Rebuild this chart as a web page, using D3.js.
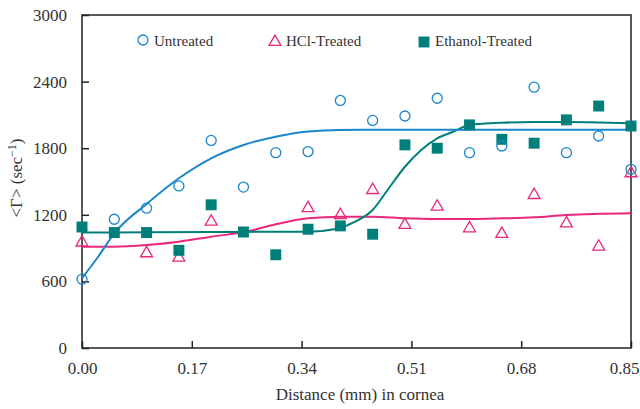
<!DOCTYPE html>
<html>
<head>
<meta charset="utf-8">
<script src="https://cdn.jsdelivr.net/npm/d3@7"></script>
<style>
  body { margin: 0; background: #fff; }
  svg text { font-family: "Liberation Serif", "Times New Roman", serif; fill: #333; }
</style>
</head>
<body>
<svg id="chart" width="640" height="409"></svg>
<script>
// measured points, distance in mm
var distance = [0.00, 0.05, 0.10, 0.15, 0.20, 0.25, 0.30, 0.35, 0.40, 0.45, 0.50, 0.55, 0.60, 0.65, 0.70, 0.75, 0.80, 0.85]
var untreated = [620, 1160, 1260, 1460, 1870, 1450, 1760, 1770, 2230, 2050, 2090, 2250, 1760, 1820, 2350, 1760, 1910, 1610]
var ethanol = [1090, 1040, 1040, 880, 1290, 1045, 840, 1070, 1100, 1025, 1830, 1800, 2010, 1880, 1845, 2055, 2180, 2000]
// HCl points hidden under squares are left out
var hclDistance = [0.00, 0.10, 0.15, 0.20, 0.35, 0.40, 0.45, 0.50, 0.55, 0.60, 0.65, 0.70, 0.75, 0.80, 0.85]
var hcl = [950, 853, 814, 1138, 1259, 1198, 1423, 1108, 1273, 1078, 1027, 1378, 1123, 913, 1574]

// fitted curves
var fitUntreatedX = [0.00, 0.025, 0.05, 0.10, 0.15, 0.20, 0.25, 0.30, 0.35, 0.40, 0.50, 0.60, 0.70, 0.85]
var fitUntreated = [628, 822, 1033, 1297, 1529, 1709, 1829, 1904, 1950, 1964, 1966, 1966, 1966, 1966]
var fitEthanolX = [0.00, 0.10, 0.20, 0.30, 0.35, 0.40, 0.415, 0.45, 0.475, 0.50, 0.55, 0.575, 0.60, 0.65, 0.70, 0.75, 0.80, 0.85]
var fitEthanol = [1040, 1042, 1045, 1047, 1048, 1078, 1117, 1243, 1439, 1633, 1889, 1949, 2009, 2030, 2036, 2036, 2032, 2024]
var fitHclX = [0.00, 0.05, 0.10, 0.15, 0.20, 0.25, 0.30, 0.35, 0.40, 0.45, 0.50, 0.55, 0.60, 0.65, 0.70, 0.75, 0.85]
var fitHcl = [913, 913, 928, 958, 1003, 1042, 1115, 1168, 1183, 1183, 1168, 1162, 1162, 1168, 1177, 1198, 1213]

var xTicks = [0, 0.17, 0.34, 0.51, 0.68, 0.85]
var yTicks = [0, 600, 1200, 1800, 2400, 3000]

var blue = '#1b86c9'
var pink = '#e8287c'
var teal = '#007f7a'

var svg = d3.select('#chart')
var x = d3.scaleLinear().domain([0, 0.85]).range([82, 631])
var y = d3.scaleLinear().domain([0, 3000]).range([348, 15])

function zip (xs, ys) {
  return xs.map(function (d, i) { return [d, ys[i]] })
}

var line = d3.line()
    .x(function (d) { return x(d[0]) })
    .y(function (d) { return y(d[1]) })
    .curve(d3.curveMonotoneX)

// frame
svg.append('rect')
    .attr('x', 82).attr('y', 15)
    .attr('width', 549).attr('height', 333)
    .attr('fill', 'none')
    .attr('stroke', '#222')
    .attr('stroke-width', 1.5)

var xAxis = svg.append('g')
    .attr('transform', 'translate(0,348)')
    .call(d3.axisBottom(x).tickValues(xTicks).tickFormat(d3.format('.2f'))
      .tickSizeInner(-7).tickSizeOuter(0).tickPadding(14))
var yAxis = svg.append('g')
    .attr('transform', 'translate(82,0)')
    .call(d3.axisLeft(y).tickValues(yTicks).tickFormat(d3.format('d'))
      .tickSizeInner(-7).tickSizeOuter(0).tickPadding(15))

;[xAxis, yAxis].forEach(function (a) {
  a.select('.domain').remove()
  a.selectAll('line').attr('stroke', '#222').attr('stroke-width', 1.5)
  a.selectAll('text').attr('font-size', 17).attr('fill', '#333')
})
// last x label sits against the page edge
xAxis.selectAll('text').filter(function (d) { return d === 0.85 })
    .attr('text-anchor', 'end').attr('dx', 8)

// fit lines
svg.append('path').datum(zip(fitHclX, fitHcl))
    .attr('d', line).attr('fill', 'none').attr('stroke', pink).attr('stroke-width', 2)
svg.append('path').datum(zip(fitEthanolX, fitEthanol))
    .attr('d', line).attr('fill', 'none').attr('stroke', teal).attr('stroke-width', 2)
svg.append('path').datum(zip(fitUntreatedX, fitUntreated))
    .attr('d', line).attr('fill', 'none').attr('stroke', blue).attr('stroke-width', 2)

var tri = d3.symbol().type(d3.symbolTriangle).size(62)
var sq = d3.symbol().type(d3.symbolSquare).size(120)

svg.append('g').selectAll('path')
    .data(zip(hclDistance, hcl))
    .enter().append('path')
      .attr('d', tri)
      .attr('transform', function (d) { return 'translate(' + x(d[0]) + ',' + y(d[1]) + ')' })
      .attr('fill', 'none').attr('stroke', pink).attr('stroke-width', 1.3)

svg.append('g').selectAll('path')
    .data(zip(distance, ethanol))
    .enter().append('path')
      .attr('d', sq)
      .attr('transform', function (d) { return 'translate(' + x(d[0]) + ',' + y(d[1]) + ')' })
      .attr('fill', teal)

svg.append('g').selectAll('circle')
    .data(zip(distance, untreated))
    .enter().append('circle')
      .attr('cx', function (d) { return x(d[0]) })
      .attr('cy', function (d) { return y(d[1]) })
      .attr('r', 5)
      .attr('fill', 'none').attr('stroke', blue).attr('stroke-width', 1.3)

// legend
var legend = svg.append('g').attr('font-size', 15)
legend.append('circle').attr('cx', 143).attr('cy', 40).attr('r', 5)
    .attr('fill', 'none').attr('stroke', blue).attr('stroke-width', 1.3)
legend.append('text').attr('x', 154).attr('y', 46).text('Untreated')
legend.append('path').attr('d', tri).attr('transform', 'translate(275,42)')
    .attr('fill', 'none').attr('stroke', pink).attr('stroke-width', 1.3)
legend.append('path').attr('d', sq).attr('transform', 'translate(424,42)').attr('fill', teal)
legend.append('text').attr('x', 286).attr('y', 46).text('HCl-Treated')
legend.append('text').attr('x', 435).attr('y', 46).text('Ethanol-Treated')

// axis titles
svg.append('text')
    .attr('x', 360).attr('y', 400)
    .attr('text-anchor', 'middle')
    .attr('font-size', 17)
    .text('Distance (mm) in cornea')

var yTitle = svg.append('text')
    .attr('transform', 'translate(22,178) rotate(-90)')
    .attr('text-anchor', 'middle')
    .attr('font-size', 17)
yTitle.append('tspan').text('<Γ> (sec')
yTitle.append('tspan').attr('dy', -6).attr('font-size', 12).text('−1')
yTitle.append('tspan').attr('dy', 6).text(')')
</script>
</body>
</html>
